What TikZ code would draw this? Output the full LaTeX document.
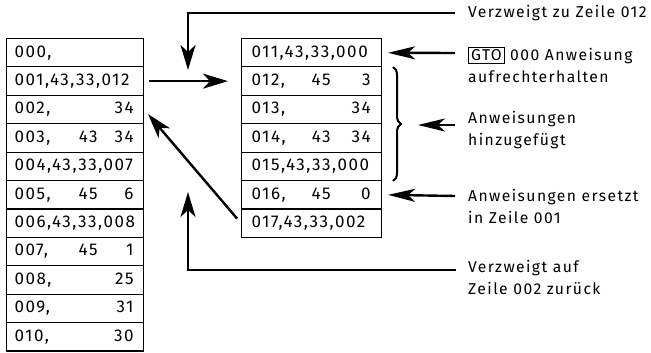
\documentclass[tikz,border=0pt]{standalone}
\usepackage{fontspec}
\setmainfont{Fira Sans}[LetterSpace=9]
\newfontfamily\labfont{Fira Sans}[LetterSpace=9]
\usetikzlibrary{arrows.meta,decorations.pathreplacing}
\newcommand\cols[4]{\rlap{#2}\hspace*{#1}\llap{#3}\hspace*{\dimexpr119pt-#1\relax}\llap{#4}}
\tikzset{
  cell/.style={draw, line width=1.1pt, anchor=north west, minimum height=28.4pt,
    inner ysep=0pt, align=left, font=\fontsize{17}{17}\selectfont},
  lcell/.style={cell, text width=121pt, inner xsep=8pt},
  rcell/.style={cell, text width=120pt, inner xsep=10pt},
  lab/.style={anchor=base west, inner sep=0pt, align=left, font=\labfont\fontsize{15.7}{22}\selectfont},
  arr/.style={line width=2.4pt, -{Stealth[length=25pt,width=15pt,inset=7pt]}},
  sarr/.style={line width=2.4pt, -{Stealth[length=27pt,width=13pt,inset=7pt]}}
}
\begin{document}
\begin{tikzpicture}[x=1pt,y=-1pt]
\useasboundingbox (0,0) rectangle (651,353);
% left table
\node[lcell] (r000) at (6,38) {000,};
\node[lcell] (r001) at (6,66.4) {001,43,33,012};
\node[lcell] (r002) at (6,94.8) {\cols{83pt}{002,}{}{34}};
\node[lcell] (r003) at (6,123.2) {\cols{83pt}{003,}{43}{34}};
\node[lcell] (r004) at (6,151.6) {004,43,33,007};
\node[lcell] (r005) at (6,180) {\cols{83pt}{005,}{45}{6}};
\node[lcell] (r006) at (6,208.4) {006,43,33,008};
\node[lcell] (r007) at (6,236.8) {\cols{83pt}{007,}{45}{1}};
\node[lcell] (r008) at (6,265.2) {\cols{83pt}{008,}{}{25}};
\node[lcell] (r009) at (6,293.6) {\cols{83pt}{009,}{}{31}};
\node[lcell] (r010) at (6,322) {\cols{83pt}{010,}{}{30}};
% right table
\node[rcell] (s011) at (241,38) {011,43,33,000};
\node[rcell] (s012) at (241,66.4) {\cols{79pt}{012,}{45}{3}};
\node[rcell] (s013) at (241,94.8) {\cols{79pt}{013,}{}{34}};
\node[rcell] (s014) at (241,123.2) {\cols{79pt}{014,}{43}{34}};
\node[rcell] (s015) at (241,151.6) {015,43,33,000};
\node[rcell] (s016) at (241,180) {\cols{79pt}{016,}{45}{0}};
\node[rcell] (s017) at (241,208.4) {017,43,33,002};
% labels
\node[lab] (l1) at (468,18) {Verzweigt zu Zeile 012};
\node[lab] (l2) at (468,83) {{\setlength\fboxsep{2pt}\setlength\fboxrule{0.8pt}\fbox{GTO}} 000 Anweisung\\aufrechterhalten};
\node[lab] (l3) at (468,146) {Anweisungen\\hinzugefügt};
\node[lab] (l4) at (468,223) {Anweisungen ersetzt\\in Zeile 001};
\node[lab] (l5) at (468,294) {Verzweigt auf\\Zeile 002 zurück};
% connector coordinates
\coordinate (c1) at (455,13);
\coordinate (t1) at (188,70);
\coordinate (c2) at (455,53);
\coordinate (c3) at (455,125);
\coordinate (t3) at (418,125);
\coordinate (c4) at (455,196);
\coordinate (c5) at (456,270);
\coordinate (t5) at (188,192);
% arrows
\draw[arr] (c1) -| (t1);
\draw[arr, shorten <=5pt, shorten >=13pt] (r001.east) -- (s012.west);
\draw[arr, shorten <=6pt, shorten >=6pt] (s017.west) -- (r002.east);
\draw[arr] (c5) -| (t5);
\draw[sarr, shorten >=6pt] (c2) -- (s011.east);
\draw[sarr] (c3) -- (t3);
\draw[sarr, shorten >=6pt] (c4) -- (s016.east);
\draw[line width=2pt, decorate, decoration={brace, amplitude=8pt}] (393,67) -- (393,181);
\end{tikzpicture}
\end{document}
